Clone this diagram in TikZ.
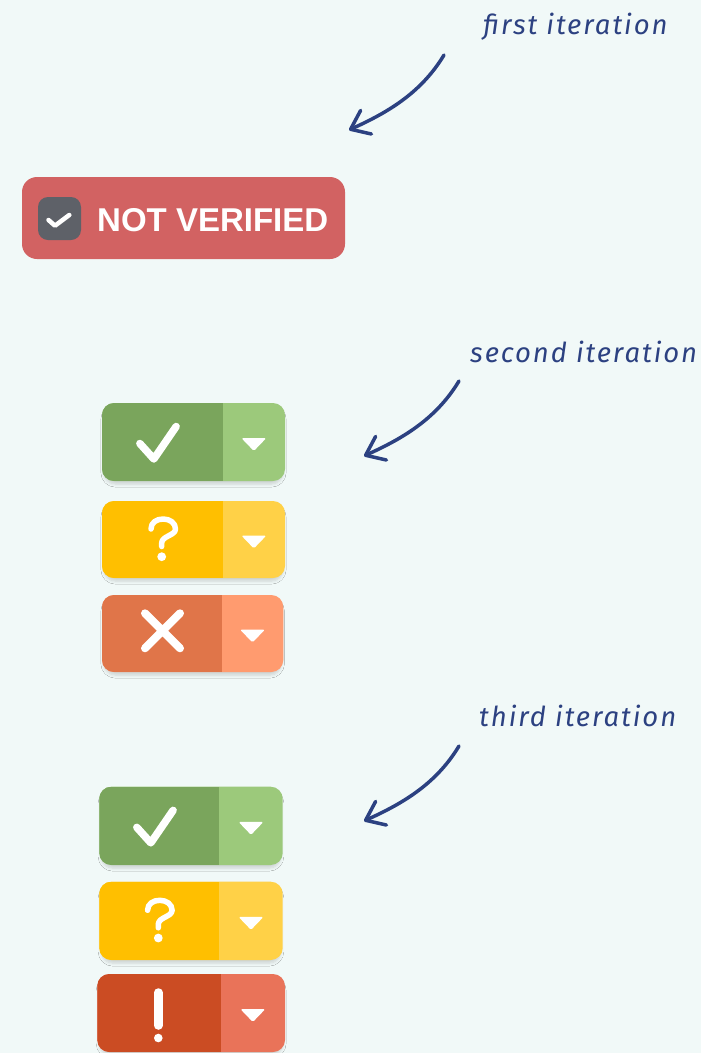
\documentclass[tikz,border=0pt]{standalone}
\usepackage{fontspec}
\usepackage{tikz}
\usetikzlibrary{arrows.meta,shadows.blur}

\newfontfamily\badgefont{Liberation Sans}
\newfontfamily\handfont{Fira Sans}[LetterSpace=7]

\definecolor{bgmint}{HTML}{F1F9F8}
\definecolor{navy}{HTML}{2C4181}
\definecolor{badgered}{HTML}{D26262}
\definecolor{boxgray}{HTML}{5E6168}
\definecolor{okdark}{HTML}{7AA55C}
\definecolor{oklight}{HTML}{9CC97B}
\definecolor{askdark}{HTML}{FFBF00}
\definecolor{asklight}{HTML}{FFD147}
\definecolor{nodark}{HTML}{E07549}
\definecolor{nolight}{HTML}{FF9B6F}
\definecolor{alertdark}{HTML}{CB4C23}
\definecolor{alertlight}{HTML}{E97359}

\begin{document}
\begin{tikzpicture}[x=1pt,y=-1pt,
  note/.style={font=\handfont\itshape\fontsize{27.5}{28}\selectfont, text=navy, anchor=base west, inner sep=0pt},
  pointer/.style={navy, line width=3.5pt, line cap=round,
    -{Straight Barb[length=17pt,width=26pt,line cap=round,line join=round]}},
  icon/.style={white, line width=7.5pt, line cap=round, line join=round},
  caret/.style={fill=white, rounded corners=1.5pt},
  btnshadow/.style={blur shadow={shadow xshift=0pt, shadow yshift=-4pt, shadow scale=0.98,
    shadow blur radius=3pt, shadow blur steps=6, shadow opacity=15}}
]
% Background
\fill[bgmint] (0,0) rectangle (701,1053);
\useasboundingbox (0,0) rectangle (701,1053);

% Labels and pointers
\foreach \lbl/\txt/\tx/\ty/\px/\py in {first/first iteration/483/34/444/55,
    second/second iteration/470/362/459/381, third/third iteration/479/726/459/746}{
  \node[note] (\lbl) at (\tx,\ty) {\txt};
  \coordinate (\lbl-from) at (\px,\py);
  \coordinate (\lbl-to) at (\px-95,\py+75);
  \draw[pointer] (\lbl-from) .. controls +(-24,40) and +(35,-16) .. (\lbl-to);
}

% First iteration badge
\node[fill=badgered, rounded corners=15pt, minimum width=323pt, minimum height=82pt, inner sep=0pt] (nv) at (183.5,218) {};
\node[fill=boxgray, rounded corners=10pt, minimum size=43pt, inner sep=0pt] (cb) at (59.5,218.5) {};
\draw[white, line width=4.5pt, line cap=round, line join=round, shift={(cb)}] (-11,1.5) -- (-4.5,7.2) -- (9.8,-3.5);
\node[font=\badgefont\bfseries\fontsize{33}{33}\selectfont, text=white, anchor=base west, inner sep=0pt] (nvtext) at (97,231) {NOT VERIFIED};

% Split buttons
\foreach \id/\xa/\ya/\xb/\yb/\xs/\dark/\light in {
    ok/102/403/285/481/222.7/okdark/oklight,
    ask/102/501/285/578/222.7/askdark/asklight,
    no/102/595/283.3/672/221.7/nodark/nolight,
    okb/99.3/786.7/282.7/865/219.3/okdark/oklight,
    askb/99.3/881.7/282.7/960/219.3/askdark/asklight,
    alert/97.3/974/285/1052/220.7/alertdark/alertlight}{
  \fill[fill=\light, rounded corners=12pt, btnshadow] (\xa,\ya) rectangle (\xb,\yb);
  \begin{scope}
    \clip[rounded corners=12pt] (\xa,\ya) rectangle (\xb,\yb);
    \fill[fill=\dark] (\xa,\ya) rectangle (\xs,\yb);
  \end{scope}
  \coordinate (\id-icon) at ({(\xa+\xs)/2},{(\ya+\yb)/2});
  \coordinate (\id-caret) at ({(\xs+\xb)/2},{(\ya+\yb)/2+2.5});
  \fill[caret, shift={(\id-caret)}] (-12.5,-6.5) -- (12.5,-6.5) -- (0,6.5) -- cycle;
}

% Icons
\foreach \id in {ok,okb}
  \draw[icon, shift={(\id-icon)}] (-22.5,1.5) -- (-8.5,17) -- (13.8,-15.5);
\foreach \dx/\dy in {0/0, -3.4/381.3}{
  \draw[icon, line width=5.5pt, shift={(\dx,\dy)}] (151,529) .. controls (151,522.5) and (156.5,519) .. (163.3,519)
    .. controls (170,519) and (175.5,523) .. (175.5,529) .. controls (175.5,535.5) and (161.7,536) .. (161.7,543) -- (161.7,546.5);
  \fill[white, shift={(\dx,\dy)}] (161.7,556.7) circle (4.4);
}
\draw[icon, line width=8pt] (145,613.3) -- (180,648.3) (180,613.3) -- (145,648.3);
\draw[icon, line width=8.5pt] (158.3,992.5) -- (158.3,1025.5);
\fill[white] (158.3,1038) circle (4.3);

\end{tikzpicture}
\end{document}
